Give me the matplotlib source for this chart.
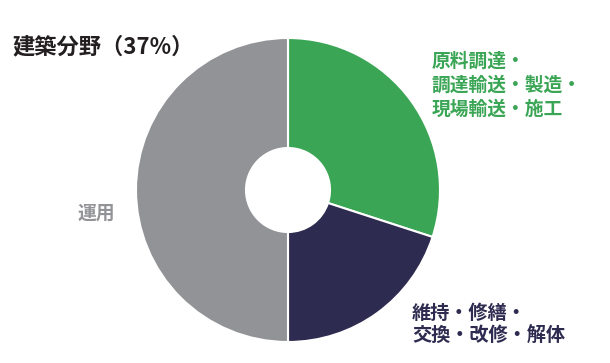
import matplotlib
matplotlib.use("Agg")
import matplotlib.pyplot as plt

plt.rcParams['font.family'] = ['Noto Sans CJK JP', 'DejaVu Sans']

categories = ["原料調達・\n調達輸送・製造・\n現場輸送・施工", "維持・修繕・\n交換・改修・解体", "運用"]
values = [30, 20, 50]
colors = ["#3aa655", "#2e2b50", "#929396"]
title = "建築分野（37%）"

W, H = 610, 363
fig = plt.figure(figsize=(W/100, H/100), dpi=100)
cx, cy, r = 288, 173, 152
ax = fig.add_axes([(cx - r)/W, (cy - r)/H, 2*r/W, 2*r/H])
ax.pie(values, colors=colors, startangle=90, counterclock=False, radius=1,
       wedgeprops=dict(width=1 - 42/152, edgecolor="white", linewidth=1.5))
ax.set_xlim(-1, 1)
ax.set_ylim(-1, 1)
ax.set_aspect('equal')
ax.axis('off')

fig.text(12/W, 1 - 47/H, title, fontsize=16, fontweight='bold', color='#231f20',
         ha='left', va='center')
fig.text(432/W, 1 - 85/H, categories[0], fontsize=13.5, fontweight='bold', color=colors[0],
         ha='left', va='center', linespacing=1.32)
fig.text(412/W, 1 - 325/H, categories[1], fontsize=13.8, fontweight='bold', color=colors[1],
         ha='left', va='center', linespacing=1.25)
fig.text(78/W, 1 - 213/H, categories[2], fontsize=13.5, fontweight='bold', color=colors[2],
         ha='left', va='center')

fig.savefig("out.png", dpi=100)
